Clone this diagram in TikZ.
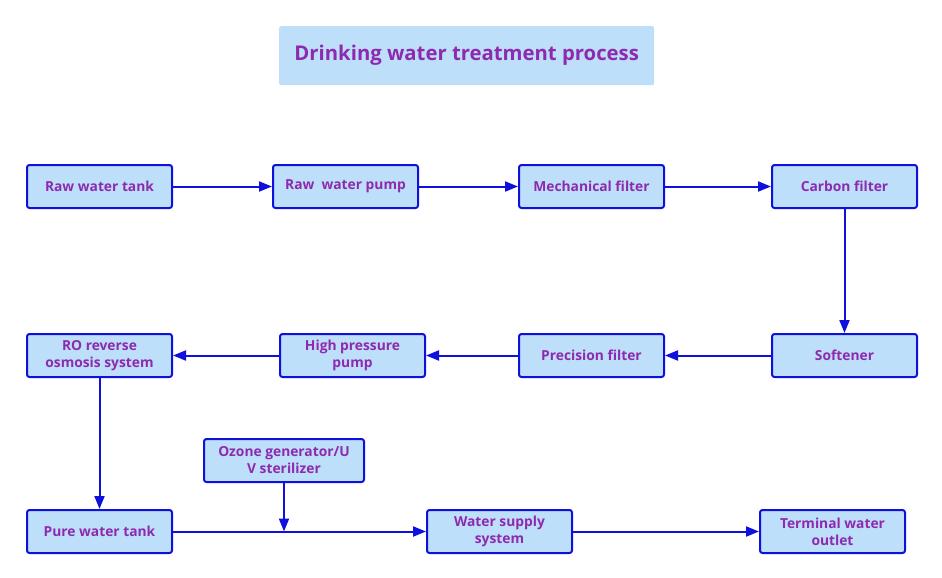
\documentclass[tikz,border=0pt]{standalone}
\usepackage{fontspec}
\setmainfont{Open Sans}
\usetikzlibrary{arrows.meta}
\definecolor{boxfill}{HTML}{BDDFFA}
\definecolor{boxline}{HTML}{1010DD}
\definecolor{txt}{HTML}{8E2AB0}
\tikzset{
  stepbox/.style={draw=boxline, line width=2pt, fill=boxfill, rounded corners=2.5pt,
    minimum width=145pt, minimum height=43pt, inner sep=2pt, text=txt,
    font=\fontsize{13.8}{17}\selectfont\bfseries, align=center, anchor=north west},
  flow/.style={draw=boxline, line width=2pt, -{Triangle[length=13pt,width=10pt]}}
}
\begin{document}
\begin{tikzpicture}[x=1pt,y=-1pt]
\useasboundingbox (0,0) rectangle (942,578);
\node[fill=boxfill, rounded corners=2pt, minimum width=375pt, minimum height=59pt, anchor=north west,
  text=txt, font=\fontsize{20.3}{24}\selectfont\bfseries] (title) at (279,26) {Drinking water treatment process};
% row 1
\node[stepbox] (rwt) at (26,164) {Raw water tank};
\node[stepbox] (rwp) at (272,164) {Raw\ \ water pump};
\node[stepbox] (mf) at (518,164) {Mechanical filter};
\node[stepbox] (cf) at (771,164) {Carbon filter};
% row 2
\node[stepbox] (ro) at (26,333) {RO reverse\\osmosis system};
\node[stepbox] (hpp) at (279,333) {High pressure\\pump};
\node[stepbox] (pf) at (518,333) {Precision filter};
\node[stepbox] (sof) at (771,333) {Softener};
% row 3
\node[stepbox, minimum width=160pt] (oz) at (203,438) {Ozone generator/U\\V sterilizer};
\node[stepbox] (pwt) at (26,509) {Pure water tank};
\node[stepbox] (wss) at (426,509) {Water supply\\system};
\node[stepbox] (two) at (759,509) {Terminal water\\outlet};
\coordinate (join) at (oz.south |- pwt.east);
% connectors
\draw[flow] (rwt) -- (rwp);
\draw[flow] (rwp) -- (mf);
\draw[flow] (mf) -- (cf);
\draw[flow] (cf) -- (sof);
\draw[flow] (sof) -- (pf);
\draw[flow] (pf) -- (hpp);
\draw[flow] (hpp) -- (ro);
\draw[flow] (ro.south -| pwt.north) -- (pwt.north);
\draw[flow] (pwt) -- (wss);
\draw[flow] (oz.south) -- (join);
\draw[flow] (wss) -- (two);
\end{tikzpicture}
\end{document}
